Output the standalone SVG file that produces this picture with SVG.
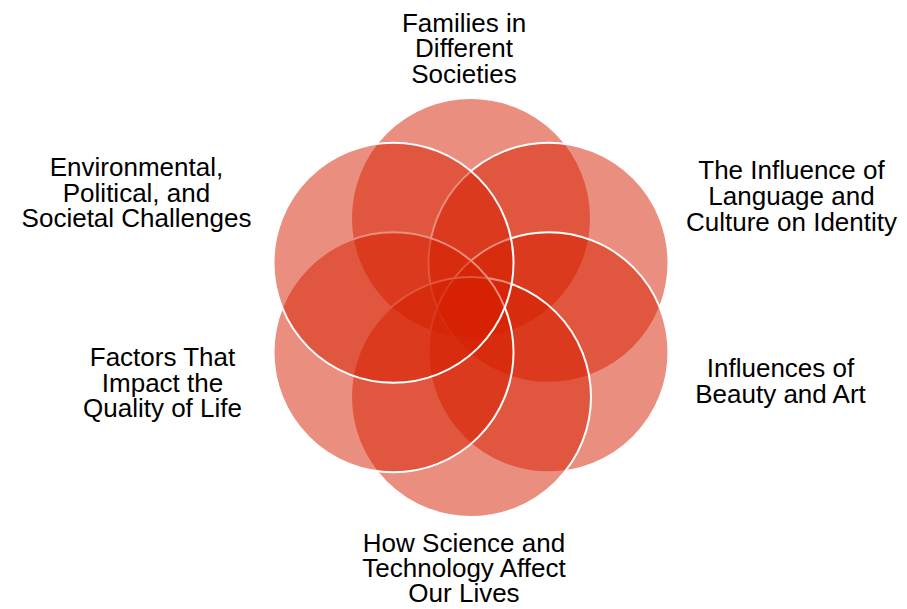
<svg xmlns="http://www.w3.org/2000/svg" width="907" height="609" viewBox="0 0 907 609">
<style>
.c{fill:#D61E00;fill-opacity:0.5;stroke:#FFFFFF;stroke-width:2}
.t{font-family:"Liberation Sans",Arial,sans-serif;font-size:26px;fill:#000000;text-anchor:middle}
</style>
<rect width="907" height="609" fill="#FFFFFF"/>
<g id="connectors"></g>
<g id="node-families">
<circle class="c" cx="471" cy="218" r="120"/>
<text class="t"><tspan x="464" y="31.5">Families in</tspan><tspan x="464" y="57">Different</tspan><tspan x="464" y="82.5">Societies</tspan></text>
</g>
<g id="node-language">
<circle class="c" cx="548.5" cy="262.75" r="120"/>
<text class="t"><tspan x="791.5" y="179.3">The Influence of</tspan><tspan x="791.5" y="205">Language and</tspan><tspan x="791.5" y="230.7">Culture on Identity</tspan></text>
</g>
<g id="node-beauty">
<circle class="c" cx="548.5" cy="352.25" r="120"/>
<text class="t"><tspan x="780.5" y="376.7">Influences of</tspan><tspan x="780.5" y="402.5">Beauty and Art</tspan></text>
</g>
<g id="node-science">
<circle class="c" cx="471" cy="397" r="120"/>
<text class="t"><tspan x="464" y="551.5">How Science and</tspan><tspan x="464" y="576.7">Technology Affect</tspan><tspan x="464" y="601.7">Our Lives</tspan></text>
</g>
<g id="node-quality">
<circle class="c" cx="393.5" cy="352.25" r="120"/>
<text class="t"><tspan x="162.5" y="366">Factors That</tspan><tspan x="162.5" y="391.7">Impact the</tspan><tspan x="162.5" y="417.3">Quality of Life</tspan></text>
</g>
<g id="node-environmental">
<circle class="c" cx="393.5" cy="262.75" r="120"/>
<text class="t"><tspan x="136.5" y="176">Environmental,</tspan><tspan x="136.5" y="201.7">Political, and</tspan><tspan x="136.5" y="227.3">Societal Challenges</tspan></text>
</g>
</svg>
